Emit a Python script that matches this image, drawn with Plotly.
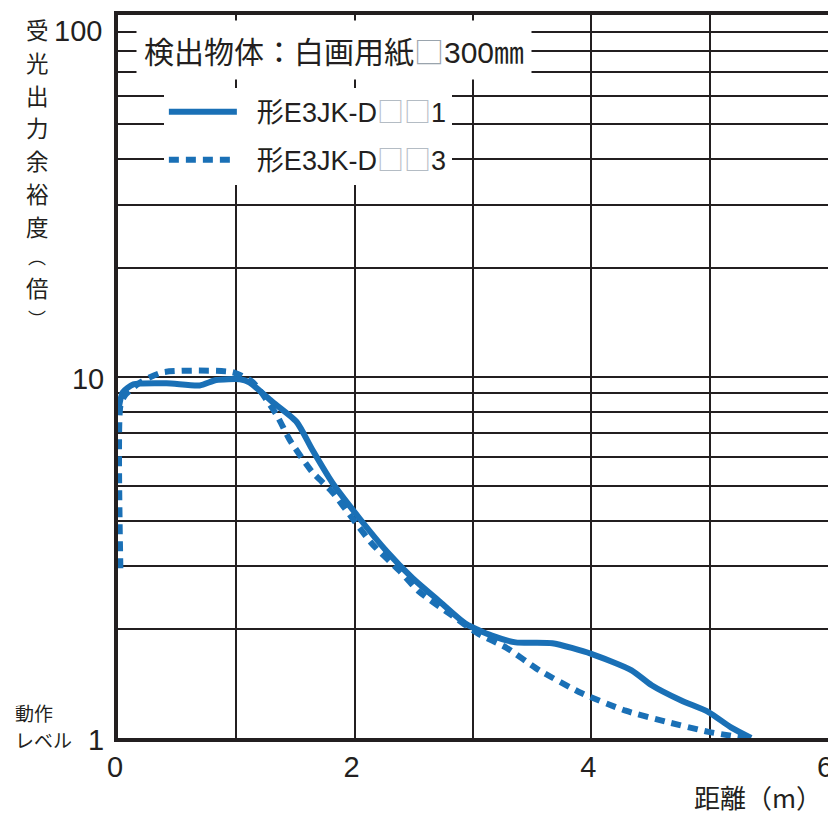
import plotly.graph_objects as go

# ---- data ----
dist_d1 = [0.0, 0.04, 0.13, 0.41, 0.69, 0.83, 1.03, 1.11, 1.31, 1.51, 1.64, 1.81, 2.04,
           2.27, 2.49, 2.71, 2.94, 3.16, 3.36, 3.67, 4.0, 4.34, 4.51, 4.76, 4.99, 5.18, 5.35]
margin_d1 = [7.98, 9.06, 9.53, 9.6, 9.47, 9.8, 9.85, 9.66, 8.5, 7.5, 6.3, 5.1, 4.06,
             3.29, 2.77, 2.4, 2.07, 1.92, 1.84, 1.83, 1.71, 1.54, 1.40, 1.27, 1.18, 1.07, 1.0]

dist_d3 = [0.02, 0.02, 0.06, 0.19, 0.38, 0.97, 1.14, 1.34, 1.45, 1.64, 1.81, 1.98, 2.15,
           2.38, 2.54, 2.8, 3.05, 3.28, 3.56, 3.92, 4.29, 4.63, 4.99, 5.3]
margin_d3 = [2.95, 8.3, 8.9, 9.66, 10.3, 10.3, 9.66, 7.85, 6.7, 5.46, 4.8, 4.06, 3.44,
             2.9, 2.55, 2.21, 1.94, 1.78, 1.54, 1.33, 1.19, 1.11, 1.04, 1.0]

BOX = "<span style='font-family:Noto Sans CJK JP;color:#b4bcc4'>□□</span>"
series_names = ["\u00a0\u00a0形E3JK-D" + BOX + "1",
                "\u00a0\u00a0形E3JK-D" + BOX + "3"]
legend_title = ("検出物体：白画用紙<span style='font-family:Noto Sans CJK JP;"
                "color:#9aa4ad'>□</span>300㎜")

x_tickvals = [0, 1, 2, 3, 4, 5, 6]
x_ticktext = ["0", "", "2", "", "4", "", "6"]
y_tickvals = [1, 2, 3, 4, 5, 6, 7, 8, 9, 10, 20, 30, 40, 50, 60, 70, 80, 90, 100]
y_ticktext = ["1", "", "", "", "", "", "", "", "", "10", "", "", "", "", "", "", "", "", ""]
y_top_label = "100"

y_title_chars = ["受", "光", "出", "力", "余", "裕", "度", "︵", "倍", "︶"]
level_lines = ["動作", "レベル"]
x_title = "距離（m）"

# ---- style ----
OFF = 8                      # page body margin
WIN_W, WIN_H = 836, 825
L, R, T, B = 118, 830, 11, 738   # plot area in window pixels
FIG_W = WIN_W - OFF
FIG_H = WIN_H - 2 * OFF
INK = "#231f20"
BLUE = "#1a70b6"
FONT = "Liberation Sans, Arial, Noto Sans CJK JP, sans-serif"
JFONT = "Noto Sans CJK JP, sans-serif"

# vertical title layout (window px centres, font sizes)
y_title_pos = [25, 58, 91, 124, 157, 190, 223, 253, 285, 316]
y_title_size = [22.5, 22.5, 22.5, 22.5, 22.5, 22.5, 22.5, 18, 22.5, 18]
level_pos = [712, 740]


def pxx(px):
    return (px - L) / (R - L)


def pxy(py):
    return (B - py) / (B - T)


fig = go.Figure()
fig.add_trace(go.Scatter(x=dist_d1, y=margin_d1, mode="lines", name=series_names[0],
                         legendgroup="a",
                         line=dict(color=BLUE, width=6, shape="spline", smoothing=0.6)))
fig.add_trace(go.Scatter(x=dist_d3, y=margin_d3, mode="lines", name=series_names[1],
                         legendgroup="b",
                         line=dict(color=BLUE, width=6, dash="10px,7px", shape="spline",
                                   smoothing=0.6)))

annotations = []
for ch, py, fs in zip(y_title_chars, y_title_pos, y_title_size):
    annotations.append(dict(text=ch, xref="paper", yref="paper", x=pxx(37), y=pxy(py),
                            xanchor="center", yanchor="middle", showarrow=False,
                            font=dict(family=JFONT, size=fs, color=INK)))
for txt, py in zip(level_lines, level_pos):
    annotations.append(dict(text=txt, xref="paper", yref="paper", x=pxx(13), y=pxy(py),
                            xanchor="left", yanchor="middle", showarrow=False,
                            font=dict(family=JFONT, size=19, color=INK)))
annotations += [
    dict(text=y_top_label, xref="paper", yref="paper", x=pxx(104), y=pxy(27),
         xanchor="right", yanchor="middle", showarrow=False,
         font=dict(family=FONT, size=29, color=INK)),
    dict(text=x_title, xref="paper", yref="paper", x=pxx(826), y=pxy(797),
         xanchor="right", yanchor="middle", showarrow=False,
         font=dict(family=JFONT, size=26, color=INK)),
    dict(text=legend_title, xref="paper", yref="paper", x=pxx(136), y=pxy(46),
         xanchor="left", yanchor="middle", showarrow=False, bgcolor="white",
         borderpad=7, font=dict(family=FONT, size=30, color=INK)),
]

fig.update_layout(
    width=FIG_W, height=FIG_H,
    margin=dict(l=L - OFF, r=FIG_W - (R - OFF), t=T - OFF, b=FIG_H - (B - OFF), pad=0),
    paper_bgcolor="white", plot_bgcolor="white",
    font=dict(family=FONT, color=INK, size=27),
    showlegend=True,
    legend=dict(x=pxx(164), y=pxy(84), xanchor="left", yanchor="top",
                bgcolor="white", borderwidth=0,
                font=dict(family=FONT, size=27, color=INK),
                itemwidth=68, tracegroupgap=10),
    annotations=annotations,
    xaxis=dict(range=[0, 6], tickvals=x_tickvals, ticktext=x_ticktext,
               showgrid=True, gridcolor=INK, gridwidth=1.6,
               showline=True, linecolor=INK, linewidth=4, mirror=True,
               ticks="", zeroline=False, ticklabelstandoff=0, ticklabelshift=-3,
               ticklabeloverflow="allow",
               tickfont=dict(family=FONT, size=29, color=INK)),
    yaxis=dict(type="log", range=[0, 2.002], tickvals=y_tickvals, ticktext=y_ticktext,
               showgrid=True, gridcolor=INK, gridwidth=1.6,
               showline=True, linecolor=INK, linewidth=4, mirror=True,
               ticks="", zeroline=False, ticklabelstandoff=4, ticklabelshift=2,
               ticklabeloverflow="allow",
               tickfont=dict(family=FONT, size=29, color=INK)),
)

fig.write_html("out.html")
